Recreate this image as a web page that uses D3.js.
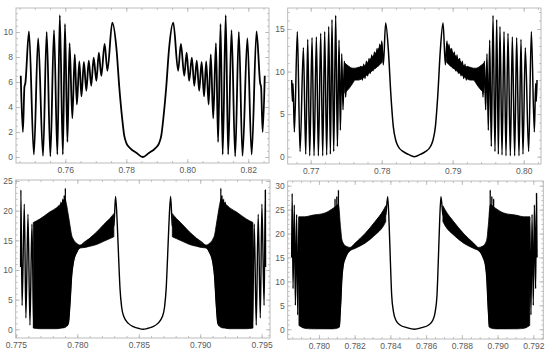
<!DOCTYPE html>
<html><head><meta charset="utf-8">
<script src="https://cdn.jsdelivr.net/npm/d3@7"></script>
<style>body{margin:0;background:#fff} svg{display:block}</style>
</head><body>
<svg id="c" width="550" height="355"></svg>
<script>
// ---------- data ----------
const p1Line = [
[0.7454,6.5],[0.7461,2.0],[0.7466,5.6],[0.7469,5.9],[0.7481,10.05],[0.7497,0.2],[0.7511,9.5],[0.7527,0.1],[0.7539,10.0],[0.7551,0.05],[0.7563,10.15],[0.7574,0.2],[0.7582,11.35],[0.7592,0.2],[0.7599,10.65],[0.7607,1.2],[0.7614,9.1],[0.7623,3.1],[0.7631,8.2],[0.7638,4.2],[0.7646,7.65],[0.7653,4.85],[0.7661,7.6],[0.7669,5.3],[0.7677,7.7],[0.7685,5.7],[0.7693,7.95],[0.7702,6.1],[0.7710,8.35],[0.7718,6.5],[0.7729,9.05],[0.7738,6.9],[0.7754,10.75],[0.7768,8.6],[0.7777,5.6],[0.7786,3.2],[0.7793,1.75],[0.7801,1.07],[0.7814,0.67],[0.7834,0.32],[0.7854,0.0],
[0.7874,0.32],[0.7894,0.67],[0.7907,1.07],[0.7915,1.75],[0.7922,3.2],[0.7931,5.6],[0.7940,8.6],[0.7954,10.75],[0.7970,6.9],[0.7979,9.05],[0.7990,6.5],[0.7998,8.35],[0.8006,6.1],[0.8015,7.95],[0.8023,5.7],[0.8031,7.7],[0.8039,5.3],[0.8047,7.6],[0.8055,4.85],[0.8062,7.65],[0.8070,4.2],[0.8077,8.2],[0.8085,3.1],[0.8094,9.1],[0.8101,1.2],[0.8109,10.65],[0.8116,0.2],[0.8126,11.35],[0.8134,0.2],[0.8145,10.15],[0.8157,0.05],[0.8169,10.0],[0.8181,0.1],[0.8197,9.5],[0.8211,0.2],[0.8227,10.05],[0.8239,5.9],[0.8242,5.6],[0.8247,2.0],[0.8254,6.5]
];
const p1Bands = [];

const p2Line = [
[0.76732,9.0],[0.76742,6.5],[0.76751,8.6],[0.76770,2.9],[0.76812,14.7],[0.76850,0.6],[0.76897,12.8],[0.76930,0.3],[0.76958,13.8],[0.76986,0.1],[0.77019,14.0],[0.77047,0.1],[0.77080,14.1],[0.77108,0.1],[0.77141,14.5],[0.77169,0.1],[0.77197,14.7],[0.77225,0.2],[0.77254,15.3],[0.77277,0.3],[0.77300,16.1],[0.77324,0.6],[0.77352,16.6],[0.77376,1.2],[0.77399,13.7],[0.77418,3.1],[0.77437,12.1],[0.77455,5.5],[0.77474,11.2],[0.77493,7.0],
[0.77510,10.6],[0.77540,9.3],[0.77590,9.5],[0.77630,9.7],
[0.77671,9.8],[0.77709,10.6],[0.77728,9.0],[0.77746,10.85],[0.77765,9.2],[0.77784,11.2],[0.77803,9.5],[0.77822,11.55],[0.77840,9.8],[0.77859,11.95],[0.77878,10.1],[0.77897,12.3],[0.77915,10.4],[0.77934,12.7],[0.77953,10.7],[0.77972,13.2],[0.77986,11.05],[0.78000,13.6],[0.78023,10.8],[0.78056,15.7],[0.78094,12.5],[0.78131,7.05],[0.78164,3.5],[0.78197,1.96],[0.78235,1.17],[0.78305,0.59],[0.78376,0.27],[0.78460,0],
[0.78544,0.27],[0.78615,0.59],[0.78685,1.17],[0.78723,1.96],[0.78756,3.5],[0.78789,7.05],[0.78826,12.5],[0.78864,15.7],[0.78897,10.8],[0.78920,13.6],[0.78934,11.05],[0.78948,13.2],[0.78967,10.7],[0.78986,12.7],[0.79005,10.4],[0.79023,12.3],[0.79042,10.1],[0.79061,11.95],[0.79080,9.8],[0.79098,11.55],[0.79117,9.5],[0.79136,11.2],[0.79155,9.2],[0.79174,10.85],[0.79192,9.0],[0.79211,10.6],[0.79249,9.8],
[0.79290,9.7],[0.79330,9.5],[0.79380,9.3],[0.79410,10.6],
[0.79427,7.0],[0.79446,11.2],[0.79465,5.5],[0.79483,12.1],[0.79502,3.1],[0.79521,13.7],[0.79544,1.2],[0.79568,16.6],[0.79596,0.6],[0.79620,16.1],[0.79643,0.3],[0.79666,15.3],[0.79695,0.2],[0.79723,14.7],[0.79751,0.1],[0.79779,14.5],[0.79812,0.1],[0.79840,14.1],[0.79873,0.1],[0.79901,14.0],[0.79934,0.1],[0.79962,13.8],[0.79990,0.3],[0.80023,12.8],[0.80070,0.6],[0.80108,14.7],[0.80150,2.9],[0.80169,8.6],[0.80178,6.5],[0.80188,9.0]
];
const p2BandL = [[0.77480,7.5,11.0],[0.77540,8.0,10.6],[0.77590,8.6,10.4],[0.77630,9.0,10.4],[0.77671,9.0,10.5],[0.77746,9.3,10.6],[0.77822,9.8,11.3],[0.77897,10.3,12.0],[0.77972,10.8,12.9],[0.78005,11.1,13.3]];
const p2BandR = [[0.78915,11.1,13.3],[0.78948,10.8,12.9],[0.79023,10.3,12.0],[0.79098,9.8,11.3],[0.79174,9.3,10.6],[0.79249,9.0,10.5],[0.79290,9.0,10.4],[0.79330,8.6,10.4],[0.79380,8.0,10.6],[0.79440,7.5,11.0]];

const p3Line = [
[0.77538,10.5],[0.77540,23.5],[0.77550,4.0],[0.77568,21.1],[0.77581,1.9],[0.77598,19.4],[0.77614,0.7],[0.77630,17.7],[0.77645,0.3],[0.77660,18.0],[0.77675,0.2],[0.77690,18.4],
[0.77840,0.2],[0.77850,20.8],[0.77858,0.3],[0.77866,21.5],[0.77872,0.3],[0.77880,22.0],[0.77886,0.4],[0.77893,22.6],[0.77897,0.5],[0.77902,23.8],[0.77912,0.6],[0.77926,1.0],[0.77940,4.5],[0.77953,9.0],[0.77967,11.3],[0.77994,13.0],[0.78021,13.9],
[0.78297,17.5],[0.78311,22.4],[0.78325,17.6],[0.78336,12],[0.78347,6.9],[0.78360,3.8],[0.78379,2.1],[0.78415,1.0],[0.78455,0.45],[0.78496,0.17],[0.78535,0],
[0.78574,0.17],[0.78615,0.45],[0.78655,1.0],[0.78691,2.1],[0.78710,3.8],[0.78723,6.9],[0.78734,12],[0.78745,17.6],[0.78759,22.4],[0.78773,17.5],
[0.79049,13.9],[0.79076,13.0],[0.79103,11.3],[0.79117,9.0],[0.79130,4.5],[0.79144,1.0],[0.79158,0.6],[0.79168,23.8],[0.79173,0.5],[0.79177,22.6],[0.79184,0.4],[0.79190,22.0],[0.79198,0.3],[0.79204,21.5],[0.79212,0.3],[0.79220,20.8],[0.79230,0.2],
[0.79380,18.4],[0.79395,0.2],[0.79410,18.0],[0.79425,0.3],[0.79440,17.7],[0.79456,0.7],[0.79472,19.4],[0.79489,1.9],[0.79502,21.1],[0.79520,4.0],[0.79530,23.5],[0.79532,10.5]
];
const p3BandL = [[0.77641,0.2,18.0],[0.77695,0.1,18.6],[0.77777,0.1,19.8],[0.77831,0.1,20.5],[0.77872,0.2,21.3],[0.77899,0.3,22.0],[0.77912,0.5,21.0],[0.77926,1.0,19.3],[0.77940,4.5,17.5],[0.77953,9.0,15.9],[0.77967,11.3,15.2],[0.77994,13.0,14.5],[0.78021,13.7,14.2],[0.78062,13.8,14.6],[0.78102,14.0,15.4],[0.78157,14.3,16.4],[0.78211,14.8,17.6],[0.78265,15.3,18.7],[0.78297,15.6,19.5]];
const p3BandR = [[0.78773,15.6,19.5],[0.78805,15.3,18.7],[0.78859,14.8,17.6],[0.78913,14.3,16.4],[0.78968,14.0,15.4],[0.79008,13.8,14.6],[0.79049,13.7,14.2],[0.79076,13.0,14.5],[0.79103,11.3,15.2],[0.79117,9.0,15.9],[0.79130,4.5,17.5],[0.79144,1.0,19.3],[0.79158,0.5,21.0],[0.79171,0.3,22.0],[0.79198,0.2,21.3],[0.79239,0.1,20.5],[0.79293,0.1,19.8],[0.79375,0.1,18.6],[0.79429,0.2,18.0]];

const p4Line = [
[0.77847,15.0],[0.77850,28.4],[0.77855,8.5],[0.77862,26.0],[0.77868,5.0],[0.77875,24.0],[0.77881,3.0],[0.77888,23.5],[0.77894,1.0],[0.77900,23.3],[0.77906,0.5],
[0.78080,0.2],[0.78085,24.8],[0.78088,0.3],[0.78090,27.3],[0.78093,0.3],[0.78095,25.0],[0.78098,0.3],[0.78100,27.8],[0.78103,0.3],[0.78105,26.0],[0.78107,0.4],[0.78109,29.1],[0.78114,0.5],[0.78118,3.0],[0.78123,6.5],[0.78127,10.0],[0.78136,13.5],[0.78146,14.8],[0.78155,15.6],[0.78174,16.6],
[0.78374,24.0],[0.78385,27.7],[0.78393,21.8],[0.78400,14.1],[0.78407,7.2],[0.78417,3.7],[0.78430,1.95],[0.78454,0.9],[0.78492,0.35],[0.78534,0],
[0.78576,0.35],[0.78614,0.9],[0.78638,1.95],[0.78651,3.7],[0.78661,7.2],[0.78668,14.1],[0.78675,21.8],[0.78683,27.7],[0.78694,24.0],
[0.78894,16.6],[0.78913,15.6],[0.78922,14.8],[0.78932,13.5],[0.78941,10.0],[0.78945,6.5],[0.78950,3.0],[0.78954,0.5],[0.78959,29.1],[0.78961,0.4],[0.78963,26.0],[0.78965,0.3],[0.78968,27.8],[0.78970,0.3],[0.78973,25.0],[0.78975,0.3],[0.78978,27.3],[0.78980,0.3],[0.78983,24.8],[0.78988,0.2],
[0.79162,0.5],[0.79168,23.3],[0.79174,1.0],[0.79180,23.5],[0.79187,3.0],[0.79193,24.0],[0.79200,5.0],[0.79206,26.0],[0.79213,8.5],[0.79218,28.4],[0.79221,15.0]
];
const p4BandL = [[0.77888,0.8,23.5],[0.77921,0.2,23.5],[0.77959,0.1,23.8],[0.78034,0.1,24.3],[0.78080,0.1,25.3],[0.78108,0.3,26.0],[0.78114,0.5,24.6],[0.78118,3.0,22.5],[0.78123,6.5,20.5],[0.78127,10.0,19.0],[0.78136,13.5,18.0],[0.78146,14.8,17.5],[0.78155,15.6,17.3],[0.78174,16.4,17.1],[0.78202,16.9,18.0],[0.78258,18.0,20.0],[0.78314,19.7,22.5],[0.78361,21.6,24.9],[0.78374,22.5,25.8]];
const p4BandR = [[0.78694,22.5,25.8],[0.78707,21.6,24.9],[0.78754,19.7,22.5],[0.78810,18.0,20.0],[0.78866,16.9,18.0],[0.78894,16.4,17.1],[0.78913,15.6,17.3],[0.78922,14.8,17.5],[0.78932,13.5,18.0],[0.78941,10.0,19.0],[0.78945,6.5,20.5],[0.78950,3.0,22.5],[0.78954,0.5,24.6],[0.78960,0.3,26.0],[0.78988,0.1,25.3],[0.79034,0.1,24.3],[0.79109,0.1,23.8],[0.79147,0.2,23.5],[0.79180,0.8,23.5]];

// tick values
const p1XTicks = [0.76,0.78,0.80,0.82];
const p1YTicks = [0,2,4,6,8,10];
const p2XTicks = [0.77,0.78,0.79,0.80];
const p2YTicks = [0,5,10,15];
const p3XTicks = [0.775,0.780,0.785,0.790,0.795];
const p3YTicks = [0,5,10,15,20,25];
const p4XTicks = [0.780,0.782,0.784,0.786,0.788,0.790,0.792];
const p4YTicks = [0,5,10,15,20,25,30];

// ---------- layout ----------
const panels = [
  {line:p1Line, bands:p1Bands, xt:p1XTicks, yt:p1YTicks, xf:".2f", xm:0.005, ym:0.5,
   box:[16,8,269,163], xd:[0.74384,0.82679], yd:[-0.48,11.92], sw:1.8},
  {line:p2Line, bands:[p2BandL,p2BandR], xt:p2XTicks, yt:p2YTicks, xf:".2f", xm:0.002, ym:1,
   box:[287.7,8,541,164], xd:[0.76676,0.80244], yd:[-0.86,17.47], sw:1.5},
  {line:p3Line, bands:[p3BandL,p3BandR], xt:p3XTicks, yt:p3YTicks, xf:".3f", xm:0.001, ym:1,
   box:[15.7,180,270,338], xd:[0.77498,0.79568], yd:[-1.47,25.17], sw:1.4},
  {line:p4Line, bands:[p4BandL,p4BandR], xt:p4XTicks, yt:p4YTicks, xf:".3f", xm:0.0005, ym:1,
   box:[287.7,181,543.3,339], xd:[0.77825,0.79256], yd:[-2.03,30.98], sw:1.4}
];

const svg = d3.select("#c");
const frameCol = "#b4b4b4", labCol = "#5a5a5a";

panels.forEach((p,i)=>{
  const [l,t,r,b] = p.box;
  const x = d3.scaleLinear().domain(p.xd).range([l,r]);
  const y = d3.scaleLinear().domain(p.yd).range([b,t]);
  const g = svg.append("g");
  const cid = "clip"+i;
  svg.append("clipPath").attr("id",cid).append("rect")
     .attr("x",l).attr("y",t).attr("width",r-l).attr("height",b-t);

  const xMinor = d3.range(Math.ceil(p.xd[0]/p.xm)*p.xm, p.xd[1], p.xm);
  const yMinor = d3.range(Math.ceil(p.yd[0]/p.ym)*p.ym, p.yd[1], p.ym);

  const styleAxis = sel => {
    sel.select(".domain").remove();
    sel.selectAll("line").attr("stroke",frameCol).attr("stroke-width",0.8);
    sel.selectAll("text").attr("fill",labCol).style("font-family","'Liberation Sans', Arial, sans-serif").style("font-size","8.5px");
  };
  g.append("g").attr("transform",`translate(0,${b})`).call(d3.axisBottom(x).tickValues(xMinor).tickSize(-2).tickFormat("")).call(styleAxis);
  g.append("g").attr("transform",`translate(0,${t})`).call(d3.axisTop(x).tickValues(xMinor).tickSize(-2).tickFormat("")).call(styleAxis);
  g.append("g").attr("transform",`translate(${l},0)`).call(d3.axisLeft(y).tickValues(yMinor).tickSize(-2).tickFormat("")).call(styleAxis);
  g.append("g").attr("transform",`translate(${r},0)`).call(d3.axisRight(y).tickValues(yMinor).tickSize(-2).tickFormat("")).call(styleAxis);
  g.append("g").attr("transform",`translate(0,${b})`).call(d3.axisBottom(x).tickValues(p.xt).tickSize(-4).tickPadding(4).tickFormat(d3.format(p.xf))).call(styleAxis);
  g.append("g").attr("transform",`translate(0,${t})`).call(d3.axisTop(x).tickValues(p.xt).tickSize(-4).tickFormat("")).call(styleAxis);
  g.append("g").attr("transform",`translate(${l},0)`).call(d3.axisLeft(y).tickValues(p.yt).tickSize(-4).tickPadding(3).tickFormat(d3.format("d"))).call(styleAxis);
  g.append("g").attr("transform",`translate(${r},0)`).call(d3.axisRight(y).tickValues(p.yt).tickSize(-4).tickFormat("")).call(styleAxis);

  const plot = g.append("g").attr("clip-path",`url(#${cid})`);
  const area = d3.area().x(d=>x(d[0])).y0(d=>y(d[1])).y1(d=>y(d[2])).curve(d3.curveMonotoneX);
  p.bands.forEach(bd=>{
    plot.append("path").attr("d",area(bd)).attr("fill","#000").attr("stroke","#000").attr("stroke-width",0.8);
  });
  const line = d3.line().x(d=>x(d[0])).y(d=>y(d[1])).curve(d3.curveMonotoneX);
  plot.append("path").attr("d",line(p.line)).attr("fill","none").attr("stroke","#000")
      .attr("stroke-width",p.sw).attr("stroke-linejoin","round");

  g.append("rect").attr("x",l).attr("y",t).attr("width",r-l).attr("height",b-t)
    .attr("fill","none").attr("stroke",frameCol).attr("stroke-width",0.9);
});
</script>
</body></html>
